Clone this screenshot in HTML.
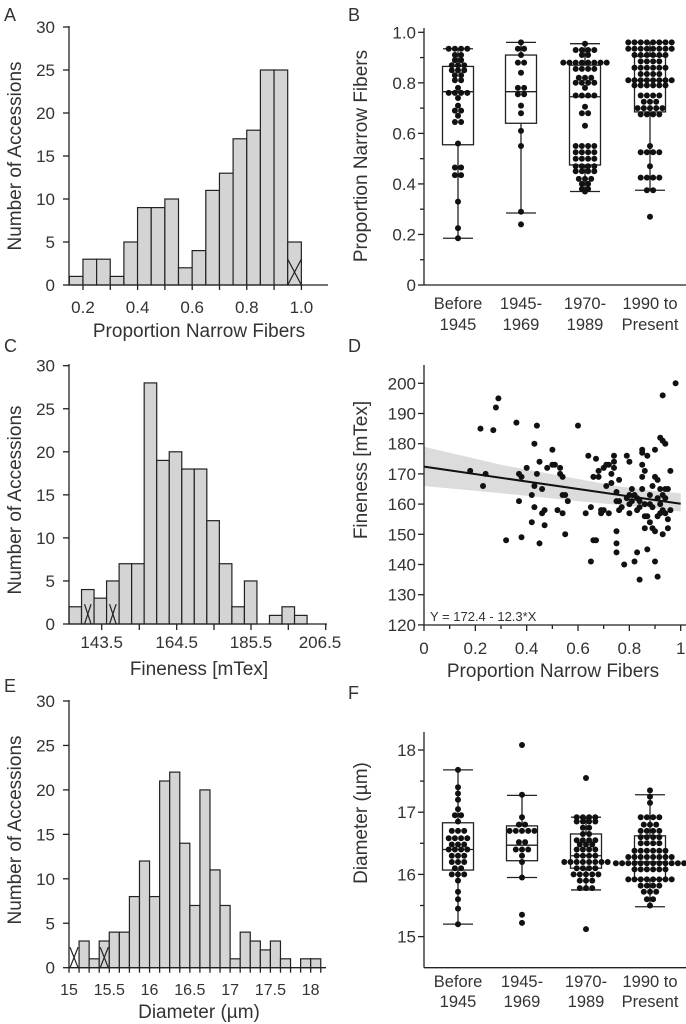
<!DOCTYPE html>
<html><head><meta charset="utf-8">
<style>
html,body{margin:0;padding:0;background:#fff;}
svg{display:block;font-family:"Liberation Sans",sans-serif;}
</style></head>
<body>
<svg id="s" width="686" height="1024" viewBox="0 0 686 1024" xmlns="http://www.w3.org/2000/svg"></svg>
<script>
var S=document.getElementById('s');var out='';
var TC='#333',LC='#222',FILL='#d4d4d4';
var TK=17,TT=19,CL=16.5;
function L(x1,y1,x2,y2,w){out+='<line x1="'+x1+'" y1="'+y1+'" x2="'+x2+'" y2="'+y2+'" stroke="'+LC+'" stroke-width="'+(w||1.3)+'"/>';}
function T(x,y,s,o){o=o||{};out+='<text x="'+x+'" y="'+y+'" font-size="'+(o.fs||TK)+'" fill="'+TC+'" text-anchor="'+(o.a||'middle')+'"'+(o.r?' transform="rotate(-90 '+x+' '+y+')"':'')+'>'+s+'</text>';}
function R(x,y,w,h,f){out+='<rect x="'+x+'" y="'+y+'" width="'+w+'" height="'+h+'" fill="'+(f||FILL)+'" stroke="'+LC+'" stroke-width="1.2"/>';}
function C(x,y){out+='<circle cx="'+x.toFixed(1)+'" cy="'+y.toFixed(1)+'" r="3" fill="#111"/>';}
function X(x0,x1,y0,y1){L(x0,y0,x1,y1,1.2);L(x0,y1,x1,y0,1.2);}

T(4,21,'A',{a:'start',fs:18});T(348,21,'B',{a:'start',fs:18});
T(4,352,'C',{a:'start',fs:18});T(348,352,'D',{a:'start',fs:18});
T(4,692,'E',{a:'start',fs:18});T(348,699,'F',{a:'start',fs:18});

/* A */
(function(){
var ax=69,y0=285,sc=8.6;
var h=[1,3,3,1,5,9,9,10,2,4,11,13,17,18,25,25,5];
var bw=13.65,bx=69.3;
for(var i=0;i<h.length;i++){R(bx+i*bw,y0-h[i]*sc,bw,h[i]*sc);}
var lx=bx+16*bw;X(lx,lx+bw,y0-3*sc,y0);
L(ax,26,ax,y0);L(ax,y0,328,y0);
for(var v=0;v<=30;v+=5){var y=y0-v*sc;L(63,y,ax,y);T(55,y+6,v,{a:'end'});}
for(var k=2;k<=10;k++){var x=83+(k-2)*27.3;L(x,y0,x,y0+5);if(k%2==0)T(x,313,(k/10).toFixed(1));}
T(21,156,'Number of Accessions',{r:1,fs:TT});
T(199,337,'Proportion Narrow Fibers',{fs:TT});
})();

function box(cx,yf,wl,q1,med,q3,wh,dots){
 var hw=15.5;
 L(cx,yf(wh),cx,yf(q3));L(cx,yf(q1),cx,yf(wl));
 L(cx-15,yf(wh),cx+15,yf(wh));L(cx-15,yf(wl),cx+15,yf(wl));
 out+='<rect x="'+(cx-hw)+'" y="'+yf(q3)+'" width="'+(2*hw)+'" height="'+(yf(q1)-yf(q3))+'" fill="none" stroke="'+LC+'" stroke-width="1.3"/>';
 L(cx-hw,yf(med),cx+hw,yf(med));
 dots.forEach(function(d){for(var i=0;i<d[1];i++){C(cx+(i-(d[1]-1)/2)*6.2,yf(d[0]));}});
}

/* B */
(function(){
var ax=424,y0=285,sc=252.7;function yf(v){return y0-v*sc;}
L(ax,28,ax,y0);L(ax,y0,686,y0);
for(var k=0;k<=10;k++){var y=yf(k/10);L(k%2==0?418:420,y,ax,y);if(k%2==0)T(416,y+6,k==0?'0':(k/10).toFixed(1),{a:'end'});}
var cx=[458,521,585,650];
box(cx[0],yf,.185,.555,.765,.865,.935,[[.935,4],[.91,2],[.89,2],[.87,3],[.85,3],[.83,2],[.81,2],[.78,1],[.76,4],[.74,1],[.71,1],[.69,2],[.67,1],[.645,2],[.56,1],[.465,2],[.435,2],[.33,1],[.225,1],[.185,1]]);
box(cx[1],yf,.285,.64,.765,.91,.96,[[.96,1],[.935,2],[.91,1],[.88,2],[.84,1],[.78,2],[.755,2],[.71,1],[.68,1],[.61,1],[.55,1],[.29,1],[.24,1]]);
box(cx[2],yf,.37,.475,.745,.87,.955,[[.955,1],[.93,4],[.91,2],[.88,8],[.855,4],[.82,3],[.8,4],[.78,1],[.75,4],[.705,1],[.68,2],[.63,1],[.55,4],[.525,4],[.5,4],[.47,4],[.45,4],[.42,3],[.4,2],[.38,2],[.37,1]]);
box(cx[3],yf,.375,.685,.81,.905,.96,[[.96,8],[.935,8],[.91,6],[.885,4],[.86,6],[.835,4],[.81,8],[.79,6],[.75,4],[.725,3],[.7,5],[.675,4],[.55,1],[.525,4],[.47,1],[.425,4],[.375,2],[.27,1]]);
var l1=['Before','1945-','1970-','1990 to'],l2=['1945','1969','1989','Present'];
for(var i=0;i<4;i++){T(cx[i],309,l1[i],{fs:CL});T(cx[i],330,l2[i],{fs:CL});}
T(367,156,'Proportion Narrow Fibers',{r:1,fs:TT});
})();

/* C */
(function(){
var ax=69,y0=624,sc=8.61,bw=12.53;
var h=[2,4,3,5,7,7,28,19,20,18,18,12,7,2,5,0,1,2,1];
for(var i=0;i<h.length;i++){if(h[i]>0)R(ax+i*bw,y0-h[i]*sc,bw,h[i]*sc);}
X(ax+bw+3,ax+2*bw-3,y0-2.3*sc,y0);X(ax+3*bw+3,ax+4*bw-3,y0-2.3*sc,y0);
L(ax,364,ax,y0);L(ax,y0,327,y0);
for(var v=0;v<=30;v+=5){var y=y0-v*sc;L(63,y,ax,y);T(55,y+6,v,{a:'end'});}
var tx=[101.7,139.3,176.7,214,251,288.3,325.7];
tx.forEach(function(x){L(x,y0,x,y0+6);});
T(101.7,648,'143.5');T(176.7,648,'164.5');T(251,648,'185.5');T(320,648,'206.5');
T(21,500,'Number of Accessions',{r:1,fs:TT});
T(199,675,'Fineness [mTex]',{fs:TT});
})();

/* D */
(function(){
var ax=424,y0=625;function xf(p){return ax+p*256.7;}function yf(v){return 383.3+(200-v)*3.02;}
var up=[[0,179],[0.3,173],[0.6,168.3],[0.75,166],[0.9,164.3],[1,163.6]],lo=[[1,157.5],[0.9,158.6],[0.75,159.8],[0.6,161],[0.3,163.6],[0,166]];
var pts=up.concat(lo).map(function(p){return xf(p[0]).toFixed(1)+','+yf(p[1]).toFixed(1);}).join(' ');
out+='<polygon points="'+pts+'" fill="#dcdcdc"/>';
var P=[[0.18,171],[0.22,185],[0.23,166],[0.24,170],[0.27,184.5],[0.28,192],[0.29,195],[0.32,148],[0.36,187],[0.37,170],[0.37,161],[0.38,149],[0.38,169],[0.4,172],[0.42,154],[0.42,163],[0.43,166],[0.43,180],[0.43,159],[0.44,186],[0.44,170],[0.45,174],[0.45,147],[0.46,165],[0.46,157],[0.47,158],[0.47,153],[0.48,172],[0.5,173],[0.5,178],[0.51,173],[0.52,158],[0.53,170],[0.53,172],[0.54,169],[0.54,163],[0.54,157],[0.55,163],[0.55,150],[0.56,161],[0.6,186],[0.63,157],[0.64,176],[0.65,159],[0.65,141],[0.66,169],[0.66,148],[0.67,175],[0.67,148],[0.68,171],[0.68,169],[0.69,158],[0.69,157],[0.7,158],[0.7,172],[0.71,173],[0.71,166],[0.72,173],[0.73,170],[0.73,167],[0.74,176],[0.74,174],[0.74,172],[0.75,164],[0.75,161],[0.75,151],[0.75,147],[0.75,144],[0.76,168],[0.76,161],[0.76,158],[0.78,140],[0.79,176],[0.8,174],[0.8,163],[0.8,160],[0.8,157],[0.81,165],[0.81,161],[0.82,141],[0.82,163],[0.83,144],[0.83,158],[0.83,162],[0.84,161],[0.84,135],[0.85,178],[0.85,177],[0.85,173],[0.85,169],[0.85,165],[0.86,160],[0.86,156],[0.86,152],[0.86,171],[0.87,145],[0.87,176],[0.87,156],[0.88,160],[0.88,154],[0.89,159],[0.89,152],[0.9,151],[0.9,141],[0.9,169],[0.9,178],[0.91,162],[0.91,156],[0.91,136],[0.91,168],[0.92,182],[0.92,165],[0.92,160],[0.93,181],[0.93,150],[0.93,158],[0.93,163],[0.93,196],[0.94,180],[0.94,162],[0.94,157],[0.95,155],[0.95,152],[0.95,165],[0.96,158],[0.96,171],[0.98,200],[0.88,163],[0.84,159],[0.79,162],[0.92,157],[0.89,166],[0.77,159],[0.94,165],[0.72,157]];
P.forEach(function(p){C(xf(p[0]),yf(p[1]));});
out+='<line x1="'+xf(0)+'" y1="'+yf(172.4)+'" x2="'+xf(1)+'" y2="'+yf(160.1)+'" stroke="#111" stroke-width="2"/>';
L(ax,365,ax,y0);L(ax,y0,686,y0);
for(var v=120;v<=200;v+=10){var y=yf(v);L(418,y,ax,y);T(416,y+6,v,{a:'end'});}
for(var k=0;k<=10;k++){var x=xf(k/10);L(x,y0,x,y0+(k%2?4:6));if(k%2==0)T(x,654,k==0?'0':(k==10?'1':(k/10).toFixed(1)));}
T(430,621,'Y = 172.4 - 12.3*X',{a:'start',fs:13});
T(367,470,'Fineness [mTex]',{r:1,fs:TT});
T(553,677,'Proportion Narrow Fibers',{fs:TT});
})();

/* E */
(function(){
var ax=69,y0=967.7,sc=8.89,bw=10.07;
var h=[0,3,1,3,4,4,8,12,8,21,22,14,7,20,11,7,1,4,3,2,3,1,0,1,1];
for(var i=0;i<h.length;i++){if(h[i]>0)R(ax+i*bw,y0-h[i]*sc,bw,h[i]*sc);}
X(ax+1,ax+bw-1,y0-2.3*sc,y0);X(ax+3*bw+1,ax+4*bw-1,y0-2.3*sc,y0);
L(ax,700,ax,y0);L(ax,y0,326,y0);
for(var v=0;v<=30;v+=5){var y=y0-v*sc;L(63,y,ax,y);T(55,y+6,v,{a:'end'});}
for(var k=0;k<=25;k++){var x=ax+k*bw;L(x,y0,x,y0+5);}
var lab=['15','15.5','16','16.5','17','17.5','18'];
for(var j=0;j<7;j++){T(ax+j*40.28,995,lab[j],{fs:16});}
T(21,830,'Number of Accessions',{r:1,fs:TT});
T(199,1018,'Diameter (µm)',{fs:TT});
})();

/* F */
(function(){
var ax=424,y0=967.7;function yf(v){return 750-(v-18)*62.2;}
L(ax,732,ax,y0);L(ax,y0,686,y0);
for(var v=15;v<=18;v+=0.5){var y=yf(v);L(v%1?420:418,y,ax,y);if(v%1==0)T(416,y+6,v,{a:'end'});}
var cx=[458,522,586,650];
box(cx[0],yf,15.2,16.07,16.4,16.83,17.68,[[17.68,1],[17.4,1],[17.3,1],[17.2,1],[17.05,1],[16.95,2],[16.85,1],[16.7,3],[16.58,4],[16.48,3],[16.4,4],[16.3,3],[16.2,3],[16.1,2],[16.0,3],[15.9,1],[15.72,1],[15.6,1],[15.45,1],[15.2,1]]);
box(cx[1],yf,15.95,16.22,16.47,16.78,17.27,[[18.08,1],[17.28,1],[16.92,1],[16.8,2],[16.7,5],[16.52,2],[16.4,3],[16.3,1],[16.2,1],[15.95,1],[15.35,1],[15.22,1]]);
box(cx[2],yf,15.75,16.1,16.3,16.65,16.92,[[17.55,1],[16.92,4],[16.85,4],[16.75,2],[16.65,2],[16.55,4],[16.48,3],[16.4,4],[16.3,4],[16.2,8],[16.1,4],[16.0,5],[15.9,3],[15.78,3],[15.12,1]]);
box(cx[3],yf,15.48,15.92,16.2,16.62,17.28,[[17.35,1],[17.25,1],[17.15,1],[16.92,4],[16.8,3],[16.7,4],[16.6,4],[16.5,4],[16.38,6],[16.28,8],[16.18,12],[16.08,6],[15.92,8],[15.82,4],[15.72,3],[15.6,2],[15.5,1]]);
var l1=['Before','1945-','1970-','1990 to'],l2=['1945','1969','1989','Present'];
for(var i=0;i<4;i++){T(cx[i],987,l1[i],{fs:CL});T(cx[i],1007,l2[i],{fs:CL});}
T(367,823,'Diameter (µm)',{r:1,fs:TT});
})();
S.innerHTML=out;
</script>
</body></html>
